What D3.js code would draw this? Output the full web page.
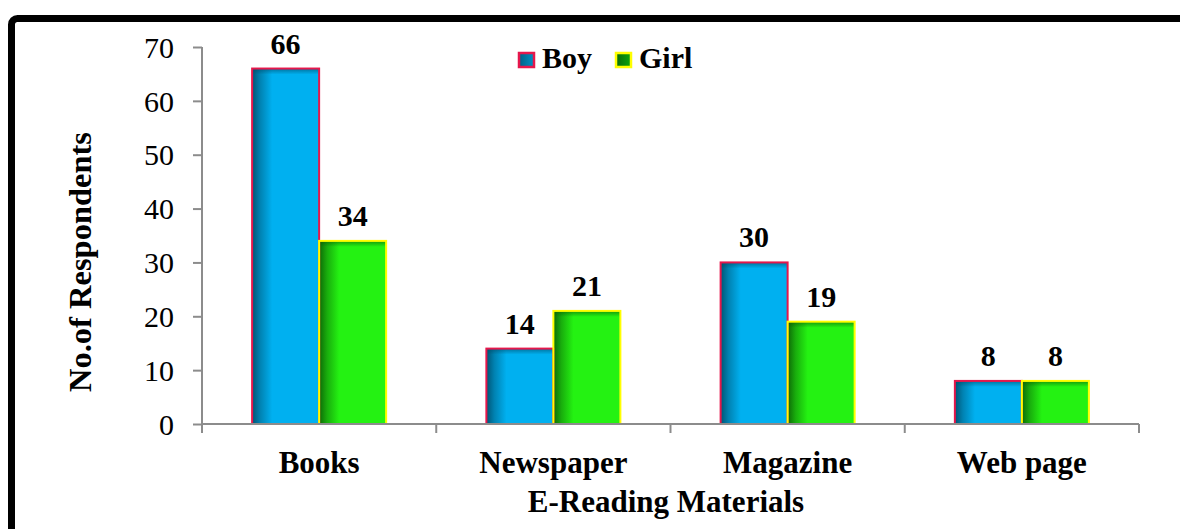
<!DOCTYPE html>
<html>
<head>
<meta charset="utf-8">
<script src="https://cdn.jsdelivr.net/npm/d3@7"></script>
<style>
  html, body { margin: 0; padding: 0; background: #fff; }
  svg { display: block; }
  text { font-family: "Liberation Serif", "Times New Roman", serif; fill: #000; }
</style>
</head>
<body>
<svg id="chart" width="1180" height="529"></svg>
<script>
const categories = ["Books", "Newspaper", "Magazine", "Web page"];
const seriesNames = ["Boy", "Girl"];
const boyValues = [66, 14, 30, 8];
const girlValues = [34, 21, 19, 8];
const yTicks = [0, 10, 20, 30, 40, 50, 60, 70];

const values = { Boy: boyValues, Girl: girlValues };
const fills = { Boy: "#00B0F0", Girl: "#24F212" };
const strokes = { Boy: "#E5174B", Girl: "#FFFF00" };
const shades = { Boy: "#004a66", Girl: "#0b5a06" };

const svg = d3.select("#chart");
const defs = svg.append("defs");

seriesNames.forEach(s => {
  const g = defs.append("linearGradient").attr("id", "lshade-" + s)
    .attr("x1", 0).attr("x2", 1).attr("y1", 0).attr("y2", 0);
  g.append("stop").attr("offset", 0).attr("stop-color", shades[s]).attr("stop-opacity", 0.9);
  g.append("stop").attr("offset", 0.12).attr("stop-color", shades[s]).attr("stop-opacity", 0.45);
  g.append("stop").attr("offset", 0.3).attr("stop-color", shades[s]).attr("stop-opacity", 0);
  const t = defs.append("linearGradient").attr("id", "tshade-" + s)
    .attr("x1", 0).attr("x2", 0).attr("y1", 0).attr("y2", 1);
  t.append("stop").attr("offset", 0).attr("stop-color", shades[s]).attr("stop-opacity", 0.6);
  t.append("stop").attr("offset", 1).attr("stop-color", shades[s]).attr("stop-opacity", 0);
  const lg = defs.append("linearGradient").attr("id", "leg-" + s)
    .attr("x1", 0).attr("x2", 1).attr("y1", 0).attr("y2", 0);
  lg.append("stop").attr("offset", 0).attr("stop-color", s === "Boy" ? "#005f86" : "#0a6a0a");
  lg.append("stop").attr("offset", 1).attr("stop-color", s === "Boy" ? "#0090c4" : "#0aa50a");
});

// outer border
svg.append("rect")
  .attr("x", 11.5).attr("y", 18.5)
  .attr("width", 1250).attr("height", 650)
  .attr("rx", 6)
  .attr("fill", "none").attr("stroke", "#000").attr("stroke-width", 7);

const plotLeft = 202, plotRight = 1139, plotTop = 47, plotBottom = 424;

const x0 = d3.scaleBand().domain(categories).range([plotLeft, plotRight]).paddingInner(0).paddingOuter(0);
const x1 = d3.scaleBand().domain(seriesNames).range([0, x0.bandwidth()]).paddingInner(0).paddingOuter(0.748);
const y = d3.scaleLinear().domain([0, 70]).range([plotBottom, plotTop]);

const axisColor = "#8c8c8c";

// y axis
const yAxis = svg.append("g").attr("transform", `translate(${plotLeft},0)`)
  .call(d3.axisLeft(y).tickValues(yTicks).tickSize(9).tickPadding(19).tickFormat(d3.format("d")));
yAxis.attr("font-family", null);
yAxis.select(".domain").attr("stroke", axisColor).attr("stroke-width", 2).attr("d", `M0,${plotTop}V${plotBottom}`);
yAxis.selectAll(".tick line").attr("stroke", axisColor).attr("stroke-width", 2);
yAxis.selectAll(".tick text")
  .style("font-family", '"Liberation Serif", "Times New Roman", serif')
  .style("font-size", "30px").attr("fill", "#000").attr("dy", "0.34em");

// bars
const groups = svg.append("g").selectAll("g").data(categories).join("g")
  .attr("transform", d => `translate(${x0(d)},0)`);

const barData = (c, i) => seriesNames.map(s => ({ s, v: values[s][i] }));

groups.each(function (c, i) {
  const g = d3.select(this);
  const data = barData(c, i);
  g.selectAll("rect.bar").data(data).join("rect").attr("class", "bar")
    .attr("x", d => x1(d.s)).attr("y", d => y(d.v))
    .attr("width", x1.bandwidth()).attr("height", d => y(0) - y(d.v))
    .attr("fill", d => fills[d.s]);
  g.selectAll("rect.ls").data(data).join("rect").attr("class", "ls")
    .attr("x", d => x1(d.s)).attr("y", d => y(d.v))
    .attr("width", x1.bandwidth()).attr("height", d => y(0) - y(d.v))
    .attr("fill", d => `url(#lshade-${d.s})`);
  g.selectAll("rect.ts").data(data).join("rect").attr("class", "ts")
    .attr("x", d => x1(d.s)).attr("y", d => y(d.v))
    .attr("width", x1.bandwidth()).attr("height", d => Math.min(6, y(0) - y(d.v)))
    .attr("fill", d => `url(#tshade-${d.s})`);
  g.selectAll("rect.bd").data(data).join("rect").attr("class", "bd")
    .attr("x", d => x1(d.s)).attr("y", d => y(d.v))
    .attr("width", x1.bandwidth()).attr("height", d => y(0) - y(d.v))
    .attr("fill", "none").attr("stroke", d => strokes[d.s]).attr("stroke-width", 2);
  g.selectAll("text.val").data(data).join("text").attr("class", "val")
    .attr("x", d => x1(d.s) + x1.bandwidth() / 2)
    .attr("y", d => y(d.v) - 15)
    .attr("text-anchor", "middle")
    .style("font-size", "30px").style("font-weight", "bold")
    .text(d => d.v);
});

// x axis
const xAxisG = svg.append("g");
xAxisG.append("line").attr("x1", plotLeft).attr("x2", plotRight)
  .attr("y1", plotBottom).attr("y2", plotBottom)
  .attr("stroke", axisColor).attr("stroke-width", 2);
const boundaries = categories.map(c => x0(c)).concat([x0(categories[categories.length - 1]) + x0.bandwidth()]);
xAxisG.selectAll("line.tk").data(boundaries).join("line").attr("class", "tk")
  .attr("x1", d => d).attr("x2", d => d)
  .attr("y1", plotBottom).attr("y2", plotBottom + 9)
  .attr("stroke", axisColor).attr("stroke-width", 2);
xAxisG.selectAll("text.cat").data(categories).join("text").attr("class", "cat")
  .attr("x", d => x0(d) + x0.bandwidth() / 2).attr("y", 473)
  .attr("text-anchor", "middle")
  .style("font-size", "31px").style("font-weight", "bold")
  .text(d => d);

// axis titles
svg.append("text")
  .attr("x", 666).attr("y", 512).attr("text-anchor", "middle")
  .style("font-size", "31px").style("font-weight", "bold")
  .text("E-Reading Materials");
svg.append("text")
  .attr("transform", "translate(91,262) rotate(-90)")
  .attr("text-anchor", "middle")
  .style("font-size", "32.5px").style("font-weight", "bold")
  .text("No.of Respondents");

// legend
const legendItems = [
  { s: "Boy", x: 518, label: "Boy" },
  { s: "Girl", x: 615, label: "Girl" }
];
const leg = svg.append("g");
leg.selectAll("rect").data(legendItems).join("rect")
  .attr("x", d => d.x + 1).attr("y", 53)
  .attr("width", 15).attr("height", 14)
  .attr("fill", d => `url(#leg-${d.s})`)
  .attr("stroke", d => strokes[d.s]).attr("stroke-width", 2.5);
leg.selectAll("text").data(legendItems).join("text")
  .attr("x", d => d.x + 24).attr("y", 68)
  .style("font-size", "30px").style("font-weight", "bold")
  .text(d => d.label);
</script>
</body>
</html>
